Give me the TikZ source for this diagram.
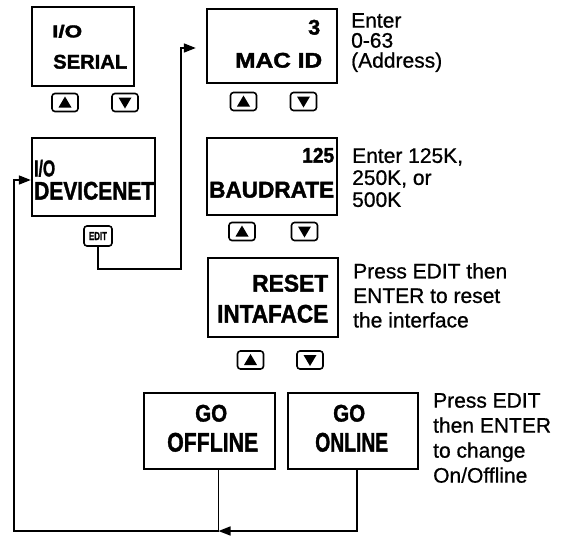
\documentclass[tikz,border=0pt]{standalone}
\usepackage{fontspec}
\usepackage{graphicx}
\newfontfamily\notefont{Liberation Sans}[FakeBold=0.8]
\newfontfamily\dispfont{Liberation Sans}[BoldFeatures={FakeBold=1.6}]
\usetikzlibrary{arrows.meta}
\newcommand\lcdtxt[3]{\resizebox*{#1pt}{#2pt}{\dispfont\bfseries #3}}
\begin{document}
\begin{tikzpicture}[x=1pt,y=-1pt,
  box/.style={draw, line width=2.4pt, inner sep=0pt},
  lcd/.style={inner sep=0pt, anchor=south west},
  btn/.style={draw, line width=1.6pt, rounded corners=3pt, minimum width=26pt, minimum height=18pt, inner sep=0pt},
  upbtn/.style={btn, path picture={\fill[sharp corners, shift={(path picture bounding box.center)}] (-6.5,5) -- (6.5,5) -- (0,-6) -- cycle;}},
  dnbtn/.style={btn, path picture={\fill[sharp corners, shift={(path picture bounding box.center)}] (-6.5,-5) -- (6.5,-5) -- (0,6) -- cycle;}},
  conn/.style={line width=1.6pt},
  tip/.style={-{Triangle[length=12pt,width=9pt]}},
  note/.style={inner sep=0pt, anchor=north west, align=left}
]
\useasboundingbox (0,0) rectangle (562,536);
\fill[white] (0,0) rectangle (562,536);

% boxes
\node[box, minimum width=102pt, minimum height=79pt] (serial) at (83,46.5) {};
\node[box, minimum width=123pt, minimum height=78pt] (devnet) at (93.5,177) {};
\node[box, minimum width=130pt, minimum height=74pt] (macid) at (272,46) {};
\node[box, minimum width=130pt, minimum height=77pt] (baud) at (272,176.5) {};
\node[box, minimum width=130pt, minimum height=79pt] (reset) at (273,297.5) {};
\node[box, minimum width=131pt, minimum height=76pt] (offline) at (209.5,431) {};
\node[box, minimum width=130pt, minimum height=76pt] (online) at (353,431) {};

% display texts
\node[lcd] (serial1) at (52,38) {\lcdtxt{30}{13}{I/O}};
\node[lcd] (serial2) at (53,69) {\lcdtxt{74}{14}{SERIAL}};
\node[lcd] (devnet1) at (34,177) {\lcdtxt{21}{17}{I/O}};
\node[lcd] (devnet2) at (34,200) {\lcdtxt{120}{18}{DEVICENET}};
\node[lcd] (macid1) at (308,35) {\lcdtxt{12}{15}{3}};
\node[lcd] (macid2) at (235,68) {\lcdtxt{87}{15}{MAC ID}};
\node[lcd] (baud1) at (302,163) {\lcdtxt{32}{15}{125}};
\node[lcd] (baud2) at (209,198) {\lcdtxt{125}{16}{BAUDRATE}};
\node[lcd] (reset1) at (252,292) {\lcdtxt{76}{17}{RESET}};
\node[lcd] (reset2) at (217,323) {\lcdtxt{111}{18}{INTAFACE}};
\node[lcd] (off1) at (195,422) {\lcdtxt{32}{17}{GO}};
\node[lcd] (off2) at (167,452) {\lcdtxt{91}{19}{OFFLINE}};
\node[lcd] (on1) at (333,422) {\lcdtxt{32}{17}{GO}};
\node[lcd] (on2) at (315,452) {\lcdtxt{73}{19}{ONLINE}};

% arrow buttons
\node[upbtn] (sup) at (65,102.5) {};
\node[dnbtn] (sdn) at (125,102.5) {};
\node[upbtn] (mup) at (243.5,101.5) {};
\node[dnbtn] (mdn) at (303.5,101.5) {};
\node[upbtn] (bup) at (242,231.5) {};
\node[dnbtn] (bdn) at (304.5,231.5) {};
\node[upbtn] (rup) at (250.5,360) {};
\node[dnbtn] (rdn) at (310,360) {};
\node[btn, minimum width=28pt, minimum height=20pt] (edit) at (98,236) {\resizebox*{18pt}{8pt}{\dispfont\bfseries EDIT}};

% notes
\node[note, font={\notefont\fontsize{21}{20}\selectfont}] (macnote) at (351,13) {Enter\\0-63\\(Address)};
\node[note, font={\notefont\fontsize{21}{22}\selectfont}] (baudnote) at (352,148) {Enter 125K,\\250K, or\\500K};
\node[note, font={\notefont\fontsize{21}{24.5}\selectfont}] (resetnote) at (353,263) {Press EDIT then\\ENTER to reset\\the interface};
\node[note, font={\notefont\fontsize{21}{25}\selectfont}] (onnote) at (433,393) {Press EDIT\\then ENTER\\to change\\On/Offline};

% connectors
\draw[conn, tip, shorten >=10pt] (edit.south) -- ++(0,22) -| (181,48) -- ([yshift=-2pt]macid.west);
\coordinate (merge) at (218.5,531);
\draw[conn, tip] ([xshift=4pt]online.south) |- (merge);
\draw[conn, tip] ([xshift=9pt]offline.south) -- (merge) -| (14,180) -- ([yshift=-3pt]devnet.west);
\end{tikzpicture}
\end{document}
